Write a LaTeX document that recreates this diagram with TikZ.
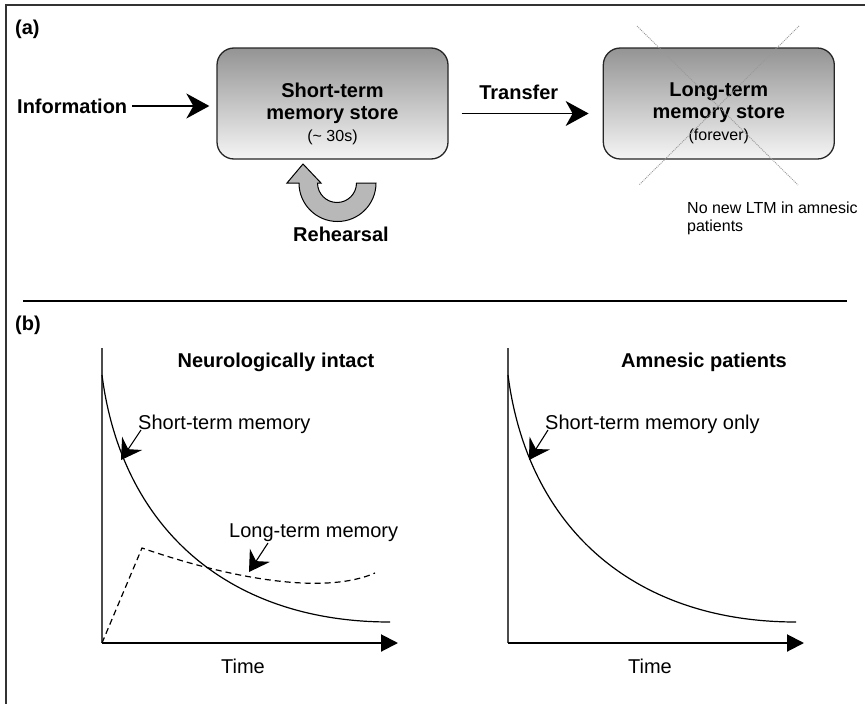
\documentclass[tikz,border=0pt]{standalone}
\usepackage{fontspec}
\setmainfont{Liberation Sans}
\usepackage{tikz}
\usetikzlibrary{arrows.meta,positioning}

\tikzset{
	store/.style={draw=black!85, line width=1.3pt, rounded corners=17pt, top color=black!42, bottom color=black!4,
		minimum width=231pt, minimum height=111pt, inner sep=0pt},
	storetext/.style={align=center, font=\bfseries\fontsize{20}{22}\selectfont, inner sep=0pt},
	labelbig/.style={font=\bfseries\fontsize{20}{24}\selectfont, inner sep=0pt},
	labelplain/.style={font=\fontsize{20}{24}\selectfont, inner sep=0pt},
	labelsmall/.style={font=\fontsize{16}{18}\selectfont, inner sep=0pt, align=left},
	flow/.style={line width=1.5pt, -{Stealth[length=23pt,width=25pt,inset=7pt]}},
	note/.style={line width=1.1pt, -{Stealth[length=20pt,width=24pt,inset=7pt]}},
	timeaxis/.style={line width=2pt, -{Triangle[length=17pt,width=17pt]}},
	recallaxis/.style={line width=2pt, draw=black!70},
	crossout/.style={draw=black!40, line width=0.9pt, dash pattern=on 1pt off 1pt},
	decay/.style={line width=1.2pt},
}

\begin{document}
\begin{tikzpicture}[x=1pt,y=-1pt]
	\useasboundingbox (0,0) rectangle (865,704);
	\draw[line width=2pt, black!80] (6,704) -- (6,5) -- (865,5);
	\draw[line width=1.5pt] (23,301) -- (847,301);

	\node[labelbig, anchor=west] (parta) at (15,29) {(a)};
	\node[labelbig, anchor=west] (info) at (17,106) {Information};
	\node[store] (stm) at (332.5,103.5) {};
	\node[store, right=154pt of stm] (ltm) {};
	\node[storetext] (stmtext) at ([yshift=-10pt]stm.center)
		{Short-term\\memory store\\{\mdseries\fontsize{16}{16}\selectfont(\textasciitilde{} 30s)}};
	\node[storetext] (ltmtext) at ([yshift=-10pt]ltm.center)
		{Long-term\\memory store\\{\mdseries\fontsize{16}{16}\selectfont(forever)}};
	\draw[flow, shorten <=5pt, shorten >=7pt] (info.east) -- (info.east -| stm.west);
	\draw[flow, shorten <=13pt, shorten >=14pt] ([yshift=-10pt]stm.east) -- ([yshift=-10pt]ltm.west)
		node[labelbig, above=13pt, pos=0.455] (transfer) {Transfer};
	\draw[crossout] (637,26) -- (798,185);
	\draw[crossout] (799,26) -- (639,185);
	\node[labelsmall, anchor=north west] (nonew) at (687,202) {No new LTM in amnesic\\patients};

	\filldraw[fill=black!28, draw=black, line width=1pt] (376,183) arc[start angle=0, end angle=-180, radius=38.5pt]
		-- (287,183) -- (303,164) -- (321,183) -- (317.5,183) arc[start angle=180, end angle=360, radius=19.5pt] -- cycle;
	\node[labelbig] (rehearsal) at (341,234) {Rehearsal};

	\node[labelbig, anchor=west] (partb) at (15,325) {(b)};

	\coordinate (o1) at (102,643);
	\draw[recallaxis] (102,348) -- (o1);
	\draw[timeaxis] (o1) -- (398,643);
	\draw[decay] (102,375) .. controls (122,530) and (230,622) .. (390,622);
	\draw[decay, dash pattern=on 6pt off 4pt] (o1) -- (142,548) .. controls (220,575) and (320,597) .. (375,573);
	\node[labelbig, anchor=base] (intact) at (276,367) {Neurologically intact};
	\node[labelplain, anchor=base west] (stmlbl) at (138,429) {Short-term memory};
	\coordinate (stmtip) at (121,460);
	\draw[note] ([xshift=3pt,yshift=-1pt]stmlbl.base west) -- (stmtip);
	\node[labelplain, anchor=base west] (ltmlbl) at (229,537) {Long-term memory};
	\coordinate (ltmtip) at (249,572);
	\draw[note] ([xshift=39pt,yshift=-6pt]ltmlbl.base west) -- (ltmtip);
	\node[labelplain, anchor=base] (time1) at (243,673) {Time};

	\coordinate (o2) at (508,643);
	\draw[recallaxis] (508,348) -- (o2);
	\draw[timeaxis] (o2) -- (804,643);
	\draw[decay] (508,375) .. controls (528,530) and (636,622) .. (796,622);
	\node[labelbig, anchor=base] (amnesic) at (704,367) {Amnesic patients};
	\node[labelplain, anchor=base west] (onlylbl) at (545,429) {Short-term memory only};
	\coordinate (onlytip) at (529,460);
	\draw[note] ([xshift=3pt,yshift=-1pt]onlylbl.base west) -- (onlytip);
	\node[labelplain, anchor=base] (time2) at (650,673) {Time};
\end{tikzpicture}
\end{document}
